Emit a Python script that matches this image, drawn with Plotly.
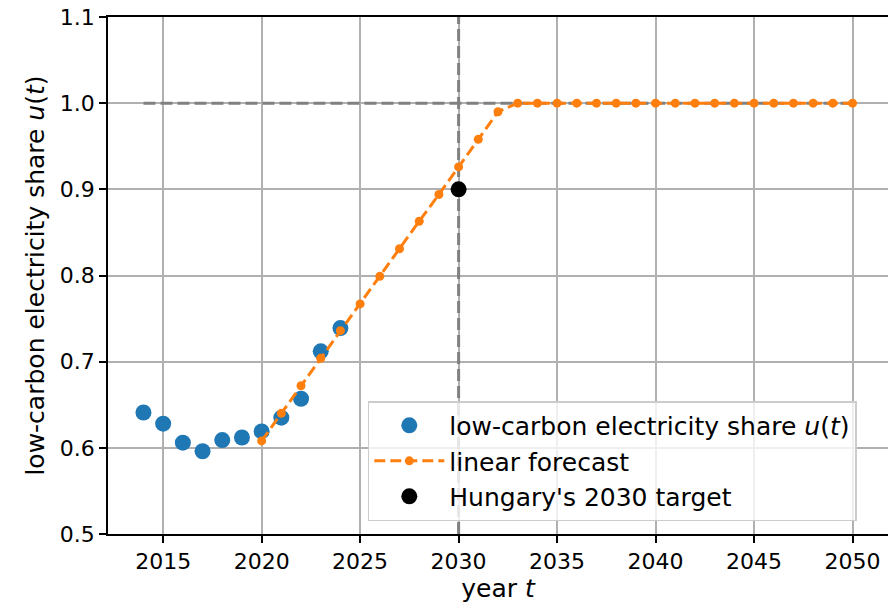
import plotly.graph_objects as go

YEARS_OBS = [2014, 2015, 2016, 2017, 2018, 2019, 2020, 2021, 2022, 2023, 2024]
SHARE_OBS = [0.641, 0.628, 0.606, 0.596, 0.609, 0.612, 0.619, 0.635, 0.657, 0.712, 0.739]

YEARS_FC = list(range(2020, 2051))
SHARE_FC = [0.608, 0.640, 0.672, 0.704, 0.736, 0.767, 0.799, 0.831, 0.863, 0.894,
            0.926, 0.958, 0.990] + [1.0] * 18

TARGET_YEAR = [2030]
TARGET_SHARE = [0.9]

REF_LEVEL = 1.0
REF_YEAR = 2030

X_TICKS = [2015, 2020, 2025, 2030, 2035, 2040, 2045, 2050]
Y_TICKS = [0.5, 0.6, 0.7, 0.8, 0.9, 1.0, 1.1]

FONT = "DejaVu Sans"
GRAY = "#808080"

fig = go.Figure()

# reference lines (drawn first so the data sits on top)
fig.add_trace(go.Scatter(
    x=[YEARS_OBS[0], YEARS_FC[-1]], y=[REF_LEVEL, REF_LEVEL], mode="lines",
    line=dict(color=GRAY, width=3, dash="12px,5px"), showlegend=False,
    hoverinfo="skip"))
fig.add_trace(go.Scatter(
    x=[REF_YEAR, REF_YEAR], y=[Y_TICKS[0], Y_TICKS[-1]], mode="lines",
    line=dict(color=GRAY, width=3, dash="12px,5px"), showlegend=False,
    hoverinfo="skip"))

fig.add_trace(go.Scatter(
    x=YEARS_OBS, y=SHARE_OBS, mode="markers",
    name="low-carbon electricity share <i>u</i>(<i>t</i>)",
    marker=dict(color="#1f77b4", size=16)))
fig.add_trace(go.Scatter(
    x=YEARS_FC, y=SHARE_FC, mode="lines+markers", name="linear forecast",
    line=dict(color="#ff7f0e", width=3, dash="11px,5px"),
    marker=dict(color="#ff7f0e", size=9)))
fig.add_trace(go.Scatter(
    x=TARGET_YEAR, y=TARGET_SHARE, mode="markers", name="Hungary's 2030 target",
    marker=dict(color="black", size=16)))

axis_common = dict(
    showgrid=True, gridcolor="#b0b0b0", gridwidth=1.5,
    showline=True, linecolor="black", linewidth=1.5, mirror=True,
    ticks="outside", ticklen=7, tickwidth=1.5, tickcolor="black", zeroline=False,
    tickfont=dict(family=FONT, size=22, color="black"),
    automargin=False,
)
fig.update_xaxes(
    range=[2012.2, 2051.8], tickvals=X_TICKS,
    title=dict(text="year <i>t</i>", font=dict(family=FONT, size=25, color="black"),
               standoff=6),
    **axis_common)
fig.update_yaxes(
    range=[0.5, 1.1], tickvals=Y_TICKS, tickformat=".1f",
    title=dict(text="low-carbon electricity share <i>u</i>(<i>t</i>)",
               font=dict(family=FONT, size=25, color="black"), standoff=8),
    **axis_common)

fig.update_layout(
    width=888, height=611,
    margin=dict(l=108, r=0, t=17, b=77),
    plot_bgcolor="white", paper_bgcolor="white",
    font=dict(family=FONT, color="black"),
    legend=dict(x=0.96, xanchor="right", y=0.025, yanchor="bottom",
                bgcolor="rgba(255,255,255,0.8)", bordercolor="#cccccc",
                borderwidth=1.5, font=dict(family=FONT, size=25, color="black"),
                tracegroupgap=0, itemwidth=70),
)

# drop the default page margin so the figure sits at the window's corner
fig.write_html("out.html", config={"displayModeBar": False},
               post_script="document.body.style.margin = '0';")
